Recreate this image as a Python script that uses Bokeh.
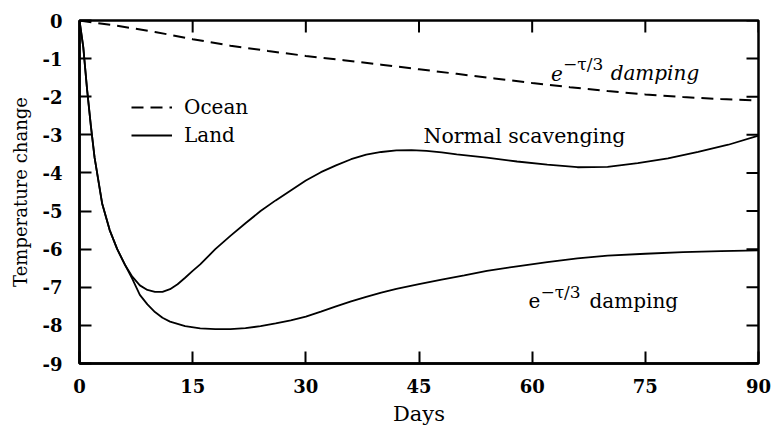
from bokeh.plotting import figure
from bokeh.models import Range1d, FixedTicker, Legend, LegendItem, Label
from bokeh.embed import file_html
from bokeh.resources import INLINE

# ---------------- data ----------------
day_ticks = [0, 15, 30, 45, 60, 75, 90]
temp_ticks = [-9, -8, -7, -6, -5, -4, -3, -2, -1, 0]
temp_tick_labels = ["-9", "-8", "-7", "-6", "-5", "-4", "-3", "-2", "-1", "0"]

ocean_days = [0, 5, 10, 15, 20, 25, 30, 35, 40, 45, 50, 55, 60, 65, 70, 75, 80, 85, 90]
ocean_temp = [0, -0.14, -0.30, -0.49, -0.66, -0.80, -0.93, -1.04, -1.16, -1.28,
              -1.40, -1.52, -1.64, -1.75, -1.85, -1.94, -2.01, -2.06, -2.10]

land_normal_days = [0, 0.5, 1, 1.5, 2, 3, 4, 5, 6, 7, 8, 9, 10, 11, 12, 13, 14, 15, 16,
                    18, 20, 22, 24, 26, 28, 30, 32, 34, 36, 38, 40, 42, 44, 46, 48, 50,
                    54, 58, 62, 66, 70, 74, 78, 82, 86, 90]
land_normal_temp = [0, -0.70, -1.80, -2.75, -3.60, -4.80, -5.50, -6.00, -6.40, -6.72,
                    -6.95, -7.07, -7.12, -7.12, -7.05, -6.92, -6.75, -6.57, -6.40,
                    -6.00, -5.65, -5.32, -5.00, -4.72, -4.46, -4.20, -3.98, -3.80,
                    -3.64, -3.52, -3.45, -3.41, -3.40, -3.42, -3.46, -3.51,
                    -3.60, -3.70, -3.78, -3.85, -3.84, -3.74, -3.62, -3.45, -3.26, -3.02]

land_damped_days = [0, 0.5, 1, 1.5, 2, 3, 4, 5, 6, 7, 8, 9, 10, 11, 12, 14, 16, 18, 20,
                    22, 24, 26, 28, 30, 32, 34, 36, 38, 40, 42, 45, 48, 51, 54, 58, 62,
                    66, 70, 75, 80, 85, 90]
land_damped_temp = [0, -0.70, -1.80, -2.75, -3.60, -4.80, -5.50, -6.00, -6.40, -6.78,
                    -7.20, -7.45, -7.65, -7.80, -7.90, -8.02, -8.08, -8.10, -8.10,
                    -8.07, -8.02, -7.95, -7.87, -7.77, -7.64, -7.50, -7.37, -7.25,
                    -7.14, -7.04, -6.92, -6.80, -6.69, -6.57, -6.45, -6.34,
                    -6.24, -6.17, -6.12, -6.08, -6.05, -6.03]

legend_labels = ["Ocean", "Land"]

SERIF = "DejaVu Serif"
X0, X1, Y0, Y1 = 0, 90, -9, 0

# ---------------- figure ----------------
p = figure(width=774, height=430, x_range=Range1d(X0, X1), y_range=Range1d(Y0, Y1),
           output_backend="svg", toolbar_location=None,
           min_border_left=79, min_border_right=16, min_border_top=20, min_border_bottom=67,
           x_axis_label="Days", y_axis_label="Temperature change")
p.grid.visible = False
p.background_fill_color = "white"
p.border_fill_color = "white"
p.outline_line_color = "black"
p.outline_line_width = 2.5

p.xaxis.ticker = FixedTicker(ticks=day_ticks)
p.yaxis.ticker = FixedTicker(ticks=temp_ticks)
p.yaxis.major_label_overrides = {t: s for t, s in zip(temp_ticks, temp_tick_labels)}

for ax in p.axis:
    ax.axis_line_color = "black"
    ax.axis_line_width = 2.5
    ax.major_tick_line_color = "black"
    ax.major_tick_line_width = 2
    ax.major_tick_in = 12
    ax.major_tick_out = 0
    ax.minor_tick_line_color = None
    ax.major_label_text_font = SERIF
    ax.major_label_text_font_style = "bold"
    ax.major_label_text_font_size = "18px"
    ax.major_label_text_color = "black"
    ax.axis_label_text_font = SERIF
    ax.axis_label_text_font_style = "normal"
    ax.axis_label_text_color = "black"

p.xaxis.major_label_standoff = 15
p.xaxis.axis_label_standoff = 6
p.xaxis.axis_label_text_font_size = "21px"
p.yaxis.major_label_standoff = 17
p.yaxis.axis_label_standoff = 9
p.yaxis.axis_label_text_font_size = "18px"

# inward ticks on the top and right frame edges (tick lengths ~12 px)
top_len = 12 * (Y1 - Y0) / 343.0
right_len = 12 * (X1 - X0) / 679.0
p.segment(x0=day_ticks, y0=[Y1] * len(day_ticks), x1=day_ticks,
          y1=[Y1 - top_len] * len(day_ticks), line_color="black", line_width=2)
p.segment(x0=[X1] * len(temp_ticks), y0=temp_ticks, x1=[X1 - right_len] * len(temp_ticks),
          y1=temp_ticks, line_color="black", line_width=2)

# ---------------- lines ----------------
r_ocean = p.line(ocean_days, ocean_temp, line_color="black", line_width=2, line_dash="12 7")
r_land = p.line(land_normal_days, land_normal_temp, line_color="black", line_width=1.8)
p.line(land_damped_days, land_damped_temp, line_color="black", line_width=1.8)

legend = Legend(items=[LegendItem(label=legend_labels[0], renderers=[r_ocean]),
                       LegendItem(label=legend_labels[1], renderers=[r_land])],
                location=(52, 216), orientation="vertical",
                glyph_width=41, glyph_height=20, label_height=20, label_standoff=12,
                spacing=4, padding=0, margin=0,
                border_line_color=None, background_fill_alpha=0,
                label_text_font=SERIF, label_text_font_size="20px", label_text_color="black")
p.add_layout(legend)

# ---------------- annotations ----------------
def lab(x, y, text, size="20px", style="normal"):
    p.add_layout(Label(x=x, y=y, text=text, text_font=SERIF, text_font_size=size,
                       text_font_style=style, text_color="black",
                       text_align="left", text_baseline="alphabetic"))

# upper (ocean) annotation
lab(62.5, -1.39, "e", style="italic")
lab(64.1, -1.15, "\u2212\u03c4/3", size="17px")
lab(70.4, -1.39, "damping", style="italic")

# normal scavenging
lab(45.6, -3.02, "Normal scavenging", size="20.5px")

# lower (land) annotation
lab(59.5, -7.35, "e")
lab(61.1, -7.12, "\u2212\u03c4/3", size="17px")
lab(67.6, -7.35, "damping")

open("out.html", "w").write(file_html(p, INLINE))
